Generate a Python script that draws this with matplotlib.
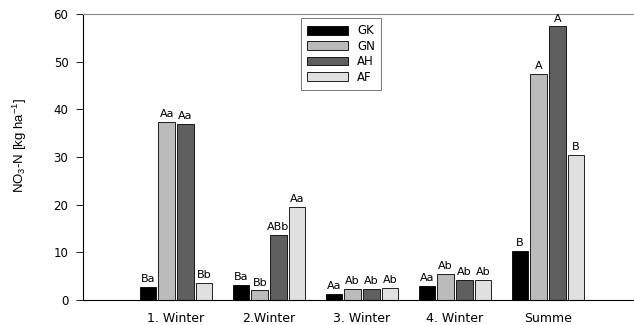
import matplotlib.pyplot as plt
import numpy as np

plt.rcParams['font.family'] = ['DejaVu Sans']
plt.rcParams['mathtext.default'] = 'regular'

groups = ['1. Winter', '2.Winter', '3. Winter', '4. Winter', 'Summe']
series = ['GK', 'GN', 'AH', 'AF']
gk = [2.8, 3.1, 1.2, 3.0, 10.3]
gn = [37.3, 2.0, 2.4, 5.5, 47.4]
ah = [36.9, 13.6, 2.4, 4.2, 57.4]
af = [3.6, 19.6, 2.6, 4.3, 30.5]
labels_gk = ['Ba', 'Ba', 'Aa', 'Aa', 'B']
labels_gn = ['Aa', 'Bb', 'Ab', 'Ab', 'A']
labels_ah = ['Aa', 'ABb', 'Ab', 'Ab', 'A']
labels_af = ['Bb', 'Aa', 'Ab', 'Ab', 'B']
colors = ['#000000', '#bbbbbb', '#5f5f5f', '#e0e0e0']

fig = plt.figure(figsize=(6.34, 3.25), dpi=100)
ax = fig.add_axes([83 / 634, 25 / 325, 551 / 634, 286 / 325])

x = np.arange(len(groups))
pitch = 0.2
w = 0.18
data = [gk, gn, ah, af]
labs = [labels_gk, labels_gn, labels_ah, labels_af]
for i, (vals, lab) in enumerate(zip(data, labs)):
    pos = x + (i - 1.5) * pitch
    ax.bar(pos, vals, width=w, color=colors[i], edgecolor='black',
           linewidth=0.6, label=series[i])
    for px, v, t in zip(pos, vals, lab):
        ax.text(px, v + 0.6, t, ha='center', va='bottom', fontsize=8)

ax.set_xlim(-1.0, 4.925)
ax.set_ylim(0, 60)
ax.set_yticks([0, 10, 20, 30, 40, 50, 60])
ax.set_xticks(x)
ax.set_xticklabels(groups, fontsize=9)
ax.tick_params(axis='x', length=0, pad=9)
ax.tick_params(axis='y', labelsize=8.5, length=5, width=0.6, pad=5.5)
ax.set_ylabel('NO$_3$-N [kg ha$^{-1}$]', fontsize=9.5, family='Liberation Sans')
ax.yaxis.set_label_coords(-0.098, 0.54)
ax.spines['right'].set_visible(False)
ax.spines['top'].set_color('#888888')
ax.spines['top'].set_linewidth(0.8)
ax.spines['left'].set_linewidth(0.8)
ax.spines['bottom'].set_linewidth(0.8)

leg = ax.legend(loc='upper left', bbox_to_anchor=((301 - 83) / 551, 0.986), fontsize=8.5,
                frameon=True, fancybox=False, edgecolor='#555555',
                handlelength=3.4, handleheight=0.75, labelspacing=0.2,
                borderpad=0.55, handletextpad=0.8, borderaxespad=0)
leg.get_frame().set_linewidth(0.7)

fig.savefig('out.png', dpi=100)
